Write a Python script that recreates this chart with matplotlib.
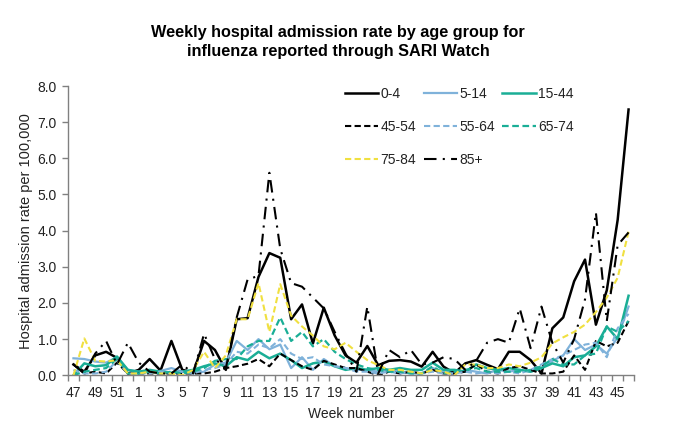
import matplotlib
matplotlib.use("Agg")
import matplotlib.pyplot as plt
from matplotlib.ticker import FixedLocator, FuncFormatter

plt.rcParams['font.family'] = ['Liberation Sans', 'DejaVu Sans']

weeks = [47, 48, 49, 50, 51, 52] + list(range(1, 47))

age_0_4 = [0.30, 0.10, 0.55, 0.65, 0.48, 0.05, 0.15, 0.45, 0.13, 0.95, 0.15, 0.08, 0.95, 0.70,
           0.15, 1.55, 1.58, 2.72, 3.38, 3.25, 1.55, 1.96, 0.88, 1.87, 1.10, 0.55, 0.35, 0.81,
           0.28, 0.40, 0.42, 0.38, 0.24, 0.65, 0.24, 0.06, 0.33, 0.42, 0.29, 0.17, 0.65, 0.65,
           0.42, 0.05, 1.30, 1.60, 2.60, 3.20, 1.40, 2.35, 4.30, 7.35]
age_5_14 = [0.47, 0.45, 0.38, 0.35, 0.50, 0.15, 0.10, 0.10, 0.12, 0.20, 0.10, 0.05, 0.10, 0.30,
            0.35, 0.95, 0.70, 1.00, 0.72, 0.85, 0.20, 0.50, 0.15, 0.45, 0.25, 0.20, 0.15, 0.15,
            0.10, 0.15, 0.10, 0.05, 0.05, 0.20, 0.10, 0.05, 0.15, 0.10, 0.05, 0.15, 0.10, 0.15,
            0.10, 0.20, 0.40, 0.55, 1.00, 0.70, 0.85, 0.60, 1.05, 1.90]
age_15_44 = [0.00, 0.33, 0.25, 0.28, 0.52, 0.15, 0.10, 0.15, 0.10, 0.07, 0.10, 0.15, 0.25, 0.33,
             0.25, 0.50, 0.42, 0.65, 0.47, 0.60, 0.42, 0.20, 0.33, 0.38, 0.25, 0.15, 0.20, 0.15,
             0.20, 0.15, 0.20, 0.15, 0.15, 0.35, 0.15, 0.15, 0.10, 0.30, 0.20, 0.15, 0.20, 0.15,
             0.10, 0.20, 0.33, 0.25, 0.50, 0.55, 0.80, 1.35, 1.00, 2.20]
age_45_54 = [0.30, 0.05, 0.10, 0.05, 0.35, 0.05, 0.05, 0.05, 0.05, 0.05, 0.05, 0.05, 0.05, 0.10,
             0.20, 0.25, 0.32, 0.45, 0.25, 0.60, 0.42, 0.25, 0.15, 0.40, 0.30, 0.20, 0.20, 0.10,
             0.00, 0.10, 0.05, 0.10, 0.05, 0.15, 0.05, 0.05, 0.10, 0.30, 0.10, 0.05, 0.20, 0.25,
             0.15, 0.05, 0.05, 0.10, 0.55, 0.15, 0.95, 0.80, 0.90, 1.50]
age_55_64 = [0.15, 0.05, 0.05, 0.10, 0.40, 0.05, 0.05, 0.05, 0.10, 0.05, 0.10, 0.05, 0.15, 0.20,
             0.30, 0.65, 0.60, 0.85, 0.75, 1.00, 0.60, 0.45, 0.50, 0.30, 0.25, 0.20, 0.10, 0.10,
             0.05, 0.10, 0.05, 0.10, 0.05, 0.10, 0.05, 0.05, 0.10, 0.05, 0.10, 0.05, 0.10, 0.05,
             0.15, 0.30, 0.45, 0.55, 0.70, 0.85, 0.90, 0.50, 1.30, 1.70]
age_65_74 = [0.00, 0.10, 0.15, 0.20, 0.45, 0.05, 0.05, 0.10, 0.05, 0.10, 0.05, 0.10, 0.20, 0.40,
             0.45, 0.45, 0.80, 0.95, 0.95, 1.60, 0.95, 1.20, 0.80, 1.00, 0.65, 0.45, 0.30, 0.20,
             0.15, 0.10, 0.10, 0.05, 0.05, 0.25, 0.05, 0.10, 0.15, 0.20, 0.10, 0.10, 0.10, 0.10,
             0.15, 0.25, 0.45, 0.30, 0.30, 0.55, 0.60, 1.35, 1.20, 1.50]
age_75_84 = [0.00, 1.02, 0.40, 0.38, 0.42, 0.05, 0.05, 0.10, 0.05, 0.05, 0.00, 0.15, 0.65, 0.20,
             0.55, 1.55, 1.55, 2.55, 1.20, 2.52, 1.65, 1.35, 1.10, 0.80, 0.72, 0.90, 0.65, 0.42,
             0.28, 0.15, 0.15, 0.10, 0.05, 0.15, 0.10, 0.00, 0.30, 0.30, 0.20, 0.20, 0.30, 0.25,
             0.35, 0.50, 0.88, 1.05, 1.20, 1.40, 1.75, 2.15, 2.70, 3.97]
age_85p = [0.30, 0.05, 0.60, 0.95, 0.30, 0.90, 0.35, 0.10, 0.05, 0.05, 0.30, 0.05, 1.15, 0.45,
           0.20, 1.60, 2.65, 2.75, 5.60, 3.50, 2.55, 2.45, 2.15, 1.85, 1.20, 0.60, 0.10, 1.90,
           0.05, 0.70, 0.50, 0.70, 0.30, 0.35, 0.50, 0.45, 0.15, 0.40, 0.90, 1.00, 0.90, 1.85,
           0.75, 1.90, 0.90, 0.35, 1.00, 2.10, 4.50, 1.50, 3.60, 3.95]

labels = ['0-4', '5-14', '15-44', '45-54', '55-64', '65-74', '75-84', '85+']
series = [age_0_4, age_5_14, age_15_44, age_45_54, age_55_64, age_65_74, age_75_84, age_85p]

BLACK = '#000000'
LBLUE = '#7FB2DA'
TEAL = '#1AAE96'
YELLOW = '#F0E040'
colors = [BLACK, LBLUE, TEAL, BLACK, LBLUE, TEAL, YELLOW, BLACK]
dash = (0, (3, 1.6))
styles = ['-', '-', '-', dash, dash, dash, dash, (0, (6, 3, 1, 3))]
widths = [1.8, 1.6, 1.8, 1.5, 1.5, 1.6, 1.5, 1.5]

fig = plt.figure(figsize=(6.8, 4.41), dpi=100)
ax = fig.add_axes([68 / 680, 1 - 375.3 / 441, (634 - 68) / 680, (375.3 - 86) / 441])

x = list(range(len(weeks)))
handles = []
for ys, lab, c, ls, lw in zip(series, labels, colors, styles, widths):
    h, = ax.plot(x, ys, color=c, linestyle=ls, linewidth=lw, label=lab)
    handles.append(h)

ax.set_xlim(-0.5, len(weeks) - 0.5)
ax.set_ylim(0, 8)
ax.set_yticks(range(0, 9))
ax.yaxis.set_major_formatter(FuncFormatter(lambda v, p: f"{v:.1f}"))

ax.xaxis.set_major_locator(FixedLocator(list(range(0, len(weeks), 2))))
ax.set_xticklabels([str(w) for w in weeks[::2]])
ax.xaxis.set_minor_locator(FixedLocator([i - 0.5 for i in range(len(weeks) + 1)]))
ax.tick_params(axis='x', which='major', length=0, pad=8, labelsize=10, labelcolor='#222222')
ax.tick_params(axis='x', which='minor', length=4, width=1, color='#808080', direction='out')
ax.tick_params(axis='y', which='major', length=4, width=1, color='#808080', direction='out',
               labelsize=10, labelcolor='#222222', pad=4)

for s in ['top', 'right']:
    ax.spines[s].set_visible(False)
for s in ['left', 'bottom']:
    ax.spines[s].set_color('#808080')
    ax.spines[s].set_linewidth(1.0)

ax.set_xlabel('Week number', fontsize=10, color='#222222', labelpad=5)
ax.set_ylabel('Hospital admission rate per 100,000', fontsize=10.5, color='#222222', labelpad=3)

order = [0, 3, 6, 1, 4, 7, 2, 5]
leg = fig.legend([handles[i] for i in order], [labels[i] for i in order],
                 loc='upper left', bbox_to_anchor=(345 / 680, 1 - 87 / 441),
                 ncol=3, frameon=False, fontsize=10, handlelength=2.4,
                 handletextpad=0.15, columnspacing=0.55, labelspacing=1.35,
                 borderpad=0, borderaxespad=0)
for t in leg.get_texts():
    t.set_color('#222222')

fig.text(0.497, 1 - 42 / 441,
         'Weekly hospital admission rate by age group for\ninfluenza reported through SARI Watch',
         ha='center', va='center', fontsize=11.7, fontweight='bold', linespacing=1.3)

fig.savefig('out.png', dpi=100, facecolor='white')
